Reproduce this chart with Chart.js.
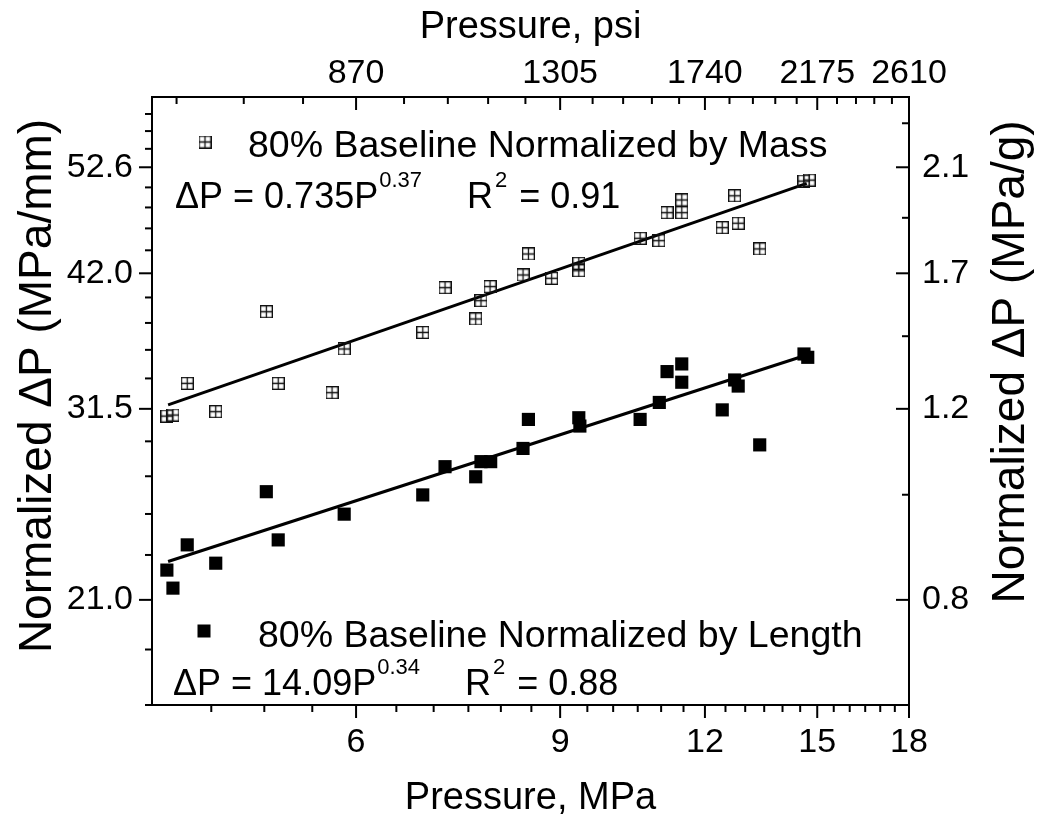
<!DOCTYPE html>
<html>
<head>
<meta charset="utf-8">
<script src="https://cdn.jsdelivr.net/npm/chart.js@4.4.1/dist/chart.umd.min.js"></script>
<style>
    html, body { margin: 0; padding: 0; background: #fff; }
    #wrap { width: 1043px; height: 821px; position: relative; }
</style>
</head>
<body>
<div id="wrap"><canvas id="pressureChart"></canvas></div>
<script>
// pressure (MPa) vs normalized pressure drop (MPa/mm)
const massP = [4.12, 4.17, 4.29, 4.54, 5.02, 5.14, 5.72, 5.86, 6.85, 7.16, 7.61, 7.69, 7.83, 8.36, 8.45,
    8.85, 9.34, 9.34, 10.55, 10.95, 11.13, 11.46, 11.46, 12.42, 12.73, 12.82, 13.38, 14.61, 14.76];
const massDP = [31.02, 31.09, 33.25, 31.31, 38.71, 33.25, 32.60, 35.77, 37.05, 40.74, 38.12, 39.63, 40.83, 41.85, 43.76,
    41.56, 42.90, 42.23, 45.24, 45.01, 47.77, 47.77, 49.07, 46.27, 49.51, 46.71, 44.23, 51.08, 51.19];
const lengthP = [4.12, 4.17, 4.29, 4.54, 5.02, 5.14, 5.86, 6.85, 7.16, 7.61, 7.69, 7.84, 8.36, 8.45,
    9.34, 9.36, 10.55, 10.96, 11.13, 11.46, 11.46, 12.42, 12.73, 12.82, 13.38, 14.61, 14.72];
const lengthDP = [22.37, 21.53, 23.60, 22.70, 26.42, 23.85, 25.19, 26.24, 27.86, 27.27, 28.16, 28.16, 28.96, 30.80,
    30.91, 30.37, 30.80, 31.93, 34.09, 34.65, 33.33, 31.43, 33.49, 33.06, 29.18, 35.39, 35.14];

// fitted power law lines (end points)
const massFitP = [4.13, 14.69];
const massFitDP = [31.77, 50.83];
const lengthFitP = [4.13, 14.69];
const lengthFitDP = [22.78, 35.31];

// axis ticks
const xTicks = [6, 9, 12, 15, 18];
const xLabels = ['6', '9', '12', '15', '18'];
const psiLabels = ['870', '1305', '1740', '2175', '2610'];
const xMinorBottom = [4.5, 5, 5.5, 6.5, 7, 7.5, 8, 8.5, 9.5, 10, 10.5, 11, 11.5, 12.5, 13, 13.5, 14, 14.5,
    15.5, 16, 16.5, 17, 17.5];
const xMinorTop = [4.2, 4.8, 5.4, 6.6, 7.2, 7.8, 8.4, 9.6, 10.2, 10.8, 11.4, 12.6, 13.2, 13.8, 14.4,
    15.6, 16.2, 16.8, 17.4];
const yTicks = [21.0, 31.5, 42.0, 52.6];
const yLabels = ['21.0', '31.5', '42.0', '52.6'];
const yRightLabels = ['0.8', '1.2', '1.7', '2.1'];
const yMinorLeft = [16.8, 18.9, 23.1, 25.2, 27.3, 29.4, 33.6, 35.7, 37.8, 39.9, 44.1, 46.2, 48.3, 50.4,
    54.7, 56.8, 58.9];
const yMinorRight = [26.25, 36.75, 47.25, 57.75];

const massLegend = '80% Baseline Normalized by Mass';
const lengthLegend = '80% Baseline Normalized by Length';
const massEq = ['0.735', '0.37', '0.91'];
const lengthEq = ['14.09', '0.34', '0.88'];

const FONT = '"Liberation Sans", Arial, Helvetica, sans-serif';
Chart.defaults.font.family = FONT;
Chart.defaults.color = '#000';

// open square with a cross, used as point style
function crossedSquare(size) {
    const c = document.createElement('canvas');
    c.width = size;
    c.height = size;
    const g = c.getContext('2d');
    g.strokeStyle = '#111';
    g.lineWidth = 1.3;
    g.strokeRect(0.65, 0.65, size - 1.3, size - 1.3);
    g.beginPath();
    g.moveTo(size / 2, 0);
    g.lineTo(size / 2, size);
    g.moveTo(0, size / 2);
    g.lineTo(size, size / 2);
    g.stroke();
    return c;
}
const massMarker = crossedSquare(13);

const fixTicks = values => scale => {
    scale.ticks = values.map(v => ({ value: v }));
};

function drawEquation(ctx, x, base, eq) {
    ctx.font = '36px ' + FONT;
    const head = '\u0394P = ' + eq[0] + 'P';
    ctx.fillText(head, x, base);
    x += ctx.measureText(head).width;
    ctx.font = '22px ' + FONT;
    ctx.fillText(eq[1], x + 1, base - 21);
    x += ctx.measureText(eq[1]).width + 46;
    ctx.font = '36px ' + FONT;
    ctx.fillText('R', x, base);
    x += ctx.measureText('R').width;
    ctx.font = '22px ' + FONT;
    ctx.fillText('2', x + 2, base - 21);
    x += ctx.measureText('2').width + 4;
    ctx.font = '36px ' + FONT;
    ctx.fillText(' = ' + eq[2], x, base);
}

function verticalTitle(ctx, text, x, y) {
    ctx.save();
    ctx.translate(x, y);
    ctx.rotate(-Math.PI / 2);
    ctx.font = '46px ' + FONT;
    ctx.textAlign = 'center';
    ctx.textBaseline = 'middle';
    ctx.fillText(text, 0, 0);
    ctx.restore();
}

// frame, tick marks, legend and annotations
const framePlugin = {
    id: 'framePlugin',
    afterDatasetsDraw(chart) {
        const { ctx, chartArea: a, scales } = chart;
        ctx.save();
        ctx.strokeStyle = '#000';
        ctx.lineWidth = 2;
        ctx.strokeRect(a.left, a.top, a.right - a.left, a.bottom - a.top);

        const line = (x1, y1, x2, y2) => {
            ctx.beginPath();
            ctx.moveTo(x1, y1);
            ctx.lineTo(x2, y2);
            ctx.stroke();
        };
        xTicks.forEach(v => {
            const px = scales.x.getPixelForValue(v);
            line(px, a.bottom, px, a.bottom + 13);
            line(px, a.top, px, a.top + 13);
        });
        xMinorBottom.forEach(v => {
            const px = scales.x.getPixelForValue(v);
            line(px, a.bottom, px, a.bottom + 7);
        });
        xMinorTop.forEach(v => {
            const px = scales.x.getPixelForValue(v);
            line(px, a.top, px, a.top + 7);
        });
        yTicks.forEach(v => {
            const py = scales.y.getPixelForValue(v);
            line(a.left - 13, py, a.left, py);
            line(a.right - 13, py, a.right, py);
        });
        yMinorLeft.forEach(v => {
            const py = scales.y.getPixelForValue(v);
            line(a.left - 7, py, a.left, py);
        });
        yMinorRight.forEach(v => {
            const py = scales.y.getPixelForValue(v);
            line(a.right - 7, py, a.right, py);
        });

        // legend
        ctx.fillStyle = '#000';
        ctx.textAlign = 'left';
        ctx.textBaseline = 'alphabetic';
        ctx.drawImage(massMarker, 205 - 6.5, 142 - 6.5);
        ctx.fillRect(204 - 6.5, 631 - 6.5, 13, 13);
        ctx.font = '37.5px ' + FONT;
        ctx.fillText(massLegend, 248, 157);
        ctx.fillText(lengthLegend, 258, 647);
        drawEquation(ctx, 175, 208, massEq);
        drawEquation(ctx, 173, 695, lengthEq);

        // axis titles on the sides, both read bottom to top
        verticalTitle(ctx, 'Normalized \u0394P (MPa/mm)', 38, 386);
        verticalTitle(ctx, 'Normalized \u0394P (MPa/g)', 1011, 362);
        ctx.restore();
    }
};

const ctx = document.getElementById('pressureChart').getContext('2d');
new Chart(ctx, {
    type: 'scatter',
    data: {
        datasets: [{
            label: massLegend,
            data: massP.map((p, i) => ({ x: p, y: massDP[i] })),
            pointStyle: massMarker,
            pointRadius: 7
        }, {
            label: lengthLegend,
            data: lengthP.map((p, i) => ({ x: p, y: lengthDP[i] })),
            pointStyle: 'rect',
            pointRadius: 9.3,
            backgroundColor: '#000',
            borderColor: '#000',
            borderWidth: 0
        }, {
            label: 'mass fit',
            data: massFitP.map((p, i) => ({ x: p, y: massFitDP[i] })),
            showLine: true,
            pointRadius: 0,
            borderColor: '#000',
            borderWidth: 3
        }, {
            label: 'length fit',
            data: lengthFitP.map((p, i) => ({ x: p, y: lengthFitDP[i] })),
            showLine: true,
            pointRadius: 0,
            borderColor: '#000',
            borderWidth: 3
        }]
    },
    options: {
        responsive: true,
        maintainAspectRatio: false,
        animation: false,
        layout: { padding: 0 },
        plugins: {
            legend: { display: false },
            tooltip: { enabled: false }
        },
        scales: {
            x: {
                type: 'logarithmic',
                position: 'bottom',
                min: 4,
                max: 18,
                bounds: 'data',
                afterBuildTicks: fixTicks(xTicks),
                afterFit: s => { s.height = 116; },
                grid: { display: false, drawTicks: false },
                border: { display: false },
                ticks: {
                    font: { size: 34 },
                    padding: 17,
                    maxRotation: 0,
                    autoSkip: false,
                    callback: (v, i) => xLabels[i]
                },
                title: { display: true, text: 'Pressure, MPa', font: { size: 38 }, padding: { top: 0, bottom: 0 } }
            },
            x2: {
                type: 'logarithmic',
                position: 'top',
                min: 4,
                max: 18,
                bounds: 'data',
                afterBuildTicks: fixTicks(xTicks),
                afterFit: s => { s.height = 97; },
                grid: { display: false, drawTicks: false },
                border: { display: false },
                ticks: {
                    font: { size: 34 },
                    padding: 3,
                    maxRotation: 0,
                    autoSkip: false,
                    callback: (v, i) => psiLabels[i]
                },
                title: { display: true, text: 'Pressure, psi', font: { size: 38 }, padding: { top: 5, bottom: 0 } }
            },
            y: {
                type: 'logarithmic',
                position: 'left',
                min: 16.8,
                max: 61.06,
                bounds: 'data',
                afterBuildTicks: fixTicks(yTicks),
                afterFit: s => { s.width = 152; },
                grid: { display: false, drawTicks: false },
                border: { display: false },
                ticks: {
                    font: { size: 34 },
                    padding: 19,
                    autoSkip: false,
                    callback: (v, i) => yLabels[i]
                }
            },
            y2: {
                type: 'logarithmic',
                position: 'right',
                min: 16.8,
                max: 61.06,
                bounds: 'data',
                afterBuildTicks: fixTicks(yTicks),
                afterFit: s => { s.width = 134; },
                grid: { display: false, drawTicks: false },
                border: { display: false },
                ticks: {
                    font: { size: 34 },
                    padding: 13,
                    autoSkip: false,
                    callback: (v, i) => yRightLabels[i]
                }
            }
        }
    },
    plugins: [framePlugin]
});
</script>
</body>
</html>
